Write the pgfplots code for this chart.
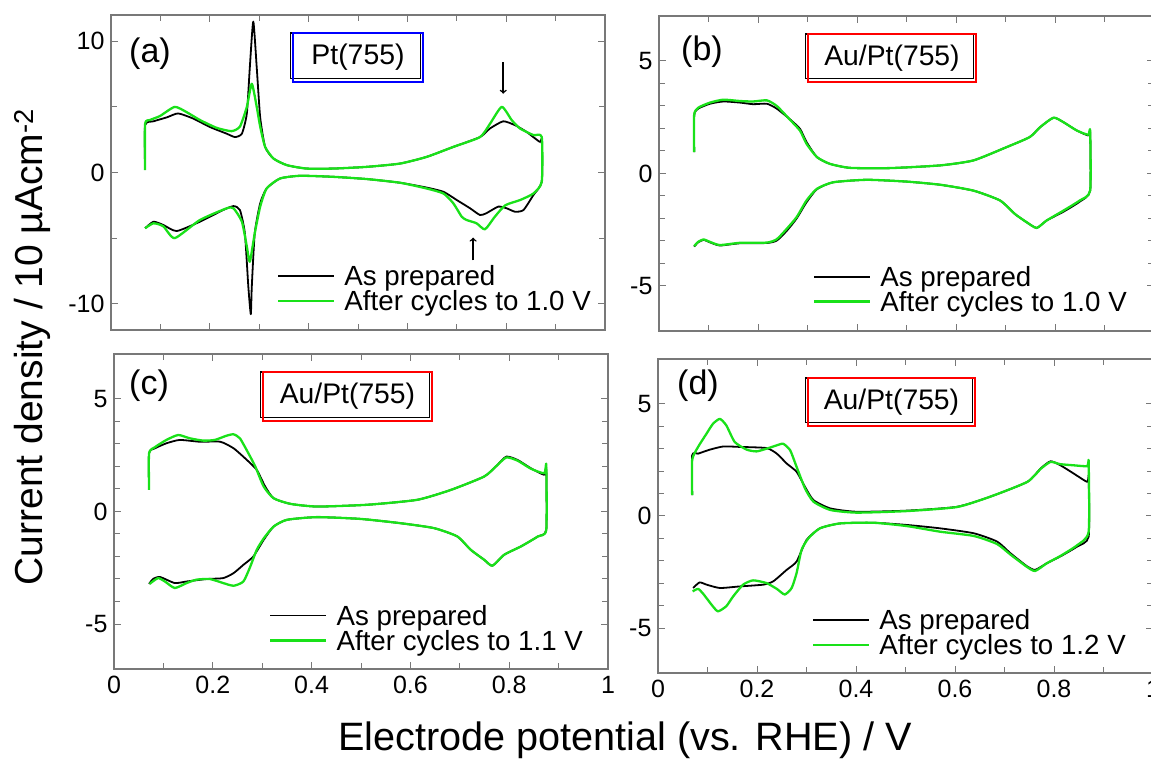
\documentclass[border=0pt]{standalone}
\usepackage{fontspec}
\setmainfont{Liberation Sans}
\usepackage{pgfplots}
\pgfplotsset{compat=1.18}
\definecolor{cvgreen}{RGB}{25,225,25}
\definecolor{framegray}{RGB}{120,120,120}
\pgfplotsset{
  cvpanel/.style={
    scale only axis, width=494pt, height=315pt,
    xmin=0, xmax=1,
    xtick={0,0.2,0.4,0.6,0.8,1}, minor xtick={0.1,0.3,0.5,0.7,0.9},
    tick align=inside,
    axis line style={framegray, line width=1.3pt},
    every tick/.style={framegray, line width=1pt},
    major tick length=7pt, minor tick length=6pt,
    tick label style={font=\fontsize{25}{30}\selectfont},
    yticklabel style={xshift=-3pt}, xticklabel style={yshift=-4pt},
    /pgf/number format/assume math mode=true,
    legend style={draw=none, fill=none, inner sep=0pt, anchor=west,
      font=\fontsize{27.7}{29}\selectfont, row sep=3pt,
      cells={anchor=west}, nodes={inner sep=0pt},
      /tikz/every odd column/.append style={column sep=9pt}},
    legend image code/.code={\draw[##1] (0pt,0pt) -- (56pt,0pt);},
    legend cell align=left,
  },
  blk/.style={black, line width=1.8pt, line join=round, smooth, tension=0.35},
  grn/.style={cvgreen, line width=2.3pt, line join=round, smooth, tension=0.35},
}
\newcommand{\lstrut}{\rule[-6.5pt]{0pt}{27pt}}
\begin{document}
\begin{tikzpicture}
\useasboundingbox (0,0) rectangle (1151pt,761pt);
% (a)
\begin{axis}[cvpanel, at={(111pt,431pt)}, anchor=south west,
  ymin=-12, ymax=12, ytick={-10,0,10}, minor ytick={-5,5}, xticklabels={},
  legend style={at={(0.336,0.132)}}]
\addplot[blk] coordinates {(0.069,0.2) (0.069,3.6) (0.086,3.9) (0.113,4.2) (0.136,4.5) (0.167,4.1) (0.2,3.47) (0.234,2.96) (0.251,2.7) (0.265,2.96) (0.275,4.5) (0.281,8.0) (0.288,11.5) (0.295,8.0) (0.302,4.2) (0.312,1.95) (0.329,1.06) (0.356,0.56) (0.396,0.30) (0.45,0.30) (0.518,0.43) (0.585,0.68) (0.639,1.19) (0.693,1.95) (0.747,2.7) (0.767,3.35) (0.794,3.9) (0.818,3.6) (0.841,3.1) (0.868,2.33) (0.872,2.5) (0.872,-0.7) (0.855,-1.72) (0.835,-2.86) (0.818,-2.99) (0.801,-2.73) (0.784,-2.6) (0.76,-3.1) (0.747,-3.24) (0.727,-2.73) (0.7,-2.1) (0.673,-1.47) (0.639,-1.15) (0.585,-0.78) (0.518,-0.5) (0.45,-0.33) (0.383,-0.25) (0.342,-0.46) (0.315,-1.22) (0.302,-2.35) (0.291,-4.63) (0.285,-8.7) (0.283,-10.8) (0.278,-8.7) (0.271,-4.63) (0.261,-2.86) (0.248,-2.56) (0.227,-2.86) (0.18,-3.75) (0.133,-4.46) (0.106,-4.0) (0.086,-3.75) (0.069,-4.25)};
\addlegendentry{\lstrut As prepared}
\addplot[grn] coordinates {(0.069,0.18) (0.069,3.7) (0.079,4.0) (0.099,4.3) (0.129,5.0) (0.153,4.6) (0.18,4.0) (0.214,3.4) (0.244,3.15) (0.261,3.5) (0.275,5.0) (0.285,6.76) (0.295,5.0) (0.302,3.5) (0.312,1.95) (0.329,1.06) (0.356,0.56) (0.396,0.30) (0.45,0.30) (0.518,0.43) (0.585,0.68) (0.639,1.19) (0.693,1.95) (0.747,2.7) (0.767,3.7) (0.791,5.0) (0.811,4.0) (0.828,3.35) (0.855,2.85) (0.872,2.7) (0.872,-0.7) (0.855,-1.6) (0.828,-2.1) (0.798,-2.5) (0.777,-3.37) (0.757,-4.33) (0.74,-3.87) (0.72,-3.62) (0.71,-3.37) (0.693,-2.35) (0.673,-1.6) (0.639,-1.22) (0.585,-0.78) (0.518,-0.5) (0.45,-0.33) (0.383,-0.25) (0.342,-0.46) (0.315,-1.22) (0.302,-2.6) (0.291,-4.63) (0.281,-6.8) (0.275,-5.65) (0.265,-3.75) (0.248,-2.73) (0.234,-2.73) (0.18,-3.62) (0.129,-5.0) (0.106,-4.1) (0.086,-3.87) (0.069,-4.25)};
\addlegendentry{\lstrut After cycles to 1.0 V}
\draw[->, black, line width=1.5pt] (axis cs:0.794,8.4) -- (axis cs:0.794,6.0);
\draw[->, black, line width=1.5pt] (axis cs:0.733,-6.7) -- (axis cs:0.733,-4.96);
\end{axis}
% (b)
\begin{axis}[cvpanel, at={(659pt,430pt)}, anchor=south west, width=495pt,
  ymin=-7, ymax=7, ytick={-5,0,5}, minor y tick num=4, xticklabels={},
  legend style={at={(0.311,0.133)}}]
\addplot[blk] coordinates {(0.071,0.95) (0.071,2.58) (0.079,2.88) (0.103,3.1) (0.13,3.2) (0.164,3.15) (0.19,3.08) (0.218,3.1) (0.238,2.88) (0.265,2.4) (0.285,1.98) (0.298,1.4) (0.319,0.73) (0.345,0.43) (0.386,0.25) (0.467,0.24) (0.568,0.36) (0.635,0.58) (0.702,1.17) (0.749,1.62) (0.77,2.06) (0.797,2.48) (0.817,2.28) (0.844,1.91) (0.867,1.69) (0.871,1.84) (0.871,-0.76) (0.85,-1.25) (0.817,-1.7) (0.783,-2.09) (0.763,-2.42) (0.743,-2.17) (0.719,-1.8) (0.689,-1.2) (0.635,-0.76) (0.568,-0.5) (0.5,-0.36) (0.42,-0.28) (0.352,-0.39) (0.319,-0.7) (0.298,-1.28) (0.278,-2.0) (0.258,-2.55) (0.238,-2.98) (0.218,-3.09) (0.164,-3.1) (0.123,-3.2) (0.103,-3.06) (0.09,-2.95) (0.079,-3.06) (0.071,-3.25)};
\addlegendentry{\lstrut As prepared}
\addplot[grn] coordinates {(0.071,0.95) (0.071,2.6) (0.079,2.92) (0.103,3.15) (0.13,3.28) (0.164,3.22) (0.19,3.2) (0.218,3.25) (0.238,3.0) (0.265,2.38) (0.285,1.9) (0.298,1.32) (0.319,0.73) (0.345,0.43) (0.386,0.25) (0.467,0.24) (0.568,0.36) (0.635,0.58) (0.702,1.17) (0.749,1.62) (0.77,2.06) (0.797,2.48) (0.817,2.28) (0.844,1.91) (0.867,1.72) (0.871,1.9) (0.871,-0.76) (0.85,-1.2) (0.817,-1.65) (0.783,-2.09) (0.763,-2.42) (0.743,-2.17) (0.719,-1.8) (0.689,-1.2) (0.635,-0.76) (0.568,-0.5) (0.5,-0.36) (0.42,-0.28) (0.352,-0.39) (0.319,-0.68) (0.298,-1.2) (0.278,-1.94) (0.258,-2.46) (0.238,-2.92) (0.218,-3.07) (0.164,-3.08) (0.123,-3.18) (0.103,-3.04) (0.09,-2.93) (0.079,-3.04) (0.071,-3.23)};
\addlegendentry{\lstrut After cycles to 1.0 V}
\end{axis}
% (c)
\begin{axis}[cvpanel, at={(114pt,92pt)}, anchor=south west,
  ymin=-7, ymax=7, ytick={-5,0,5}, minor y tick num=4,
  legend style={at={(0.314,0.130)}}]
\addplot[blk] coordinates {(0.071,0.96) (0.071,2.59) (0.083,2.81) (0.106,3.03) (0.133,3.18) (0.174,3.1) (0.215,3.1) (0.242,2.81) (0.269,2.29) (0.289,1.85) (0.306,1.11) (0.323,0.59) (0.357,0.34) (0.411,0.22) (0.513,0.3) (0.614,0.52) (0.682,0.96) (0.749,1.55) (0.773,2.0) (0.794,2.44) (0.817,2.29) (0.844,1.92) (0.871,1.63) (0.875,1.92) (0.875,-0.81) (0.858,-1.11) (0.824,-1.55) (0.79,-1.92) (0.766,-2.41) (0.749,-2.14) (0.722,-1.7) (0.695,-1.11) (0.648,-0.74) (0.58,-0.52) (0.499,-0.33) (0.411,-0.25) (0.35,-0.37) (0.323,-0.67) (0.303,-1.26) (0.282,-2.0) (0.262,-2.37) (0.242,-2.74) (0.221,-2.96) (0.188,-3.0) (0.147,-3.11) (0.123,-3.18) (0.093,-2.91) (0.079,-3.0) (0.071,-3.22)};
\addlegendentry{\lstrut As prepared}
\addplot[grn] coordinates {(0.071,0.96) (0.071,2.59) (0.083,2.86) (0.106,3.18) (0.13,3.4) (0.154,3.25) (0.181,3.15) (0.204,3.18) (0.228,3.37) (0.242,3.43) (0.255,3.25) (0.272,2.59) (0.286,2.0) (0.303,1.11) (0.323,0.59) (0.357,0.34) (0.411,0.22) (0.513,0.3) (0.614,0.52) (0.682,0.96) (0.749,1.55) (0.773,2.0) (0.794,2.4) (0.817,2.26) (0.844,1.9) (0.871,1.7) (0.875,2.07) (0.875,-0.81) (0.858,-1.11) (0.824,-1.55) (0.79,-1.92) (0.766,-2.41) (0.749,-2.14) (0.722,-1.7) (0.695,-1.11) (0.648,-0.74) (0.58,-0.52) (0.499,-0.33) (0.411,-0.25) (0.35,-0.37) (0.323,-0.67) (0.303,-1.2) (0.289,-1.7) (0.276,-2.44) (0.262,-3.11) (0.242,-3.3) (0.221,-3.18) (0.194,-3.0) (0.167,-3.03) (0.147,-3.18) (0.123,-3.4) (0.103,-3.11) (0.089,-2.96) (0.072,-3.22)};
\addlegendentry{\lstrut After cycles to 1.1 V}
\end{axis}
% (d)
\begin{axis}[cvpanel, at={(658pt,88pt)}, anchor=south west, width=495pt, height=314pt,
  ymin=-7, ymax=7, ytick={-5,0,5}, minor y tick num=4,
  legend style={at={(0.311,0.129)}}]
\addplot[blk] coordinates {(0.069,0.93) (0.069,2.71) (0.081,2.78) (0.105,2.96) (0.132,3.1) (0.165,3.08) (0.219,3.03) (0.24,2.78) (0.26,2.34) (0.28,1.97) (0.297,1.3) (0.314,0.71) (0.348,0.34) (0.401,0.19) (0.503,0.24) (0.604,0.41) (0.671,0.86) (0.746,1.52) (0.773,2.12) (0.793,2.44) (0.813,2.26) (0.84,1.89) (0.867,1.52) (0.87,1.75) (0.87,-0.92) (0.847,-1.36) (0.813,-1.8) (0.786,-2.1) (0.762,-2.4) (0.746,-2.25) (0.712,-1.66) (0.685,-1.14) (0.638,-0.77) (0.57,-0.55) (0.503,-0.4) (0.435,-0.3) (0.368,-0.33) (0.327,-0.55) (0.3,-1.07) (0.28,-2.03) (0.26,-2.4) (0.233,-2.91) (0.213,-3.06) (0.165,-3.14) (0.125,-3.21) (0.098,-3.06) (0.084,-2.96) (0.071,-3.21)};
\addlegendentry{\lstrut As prepared}
\addplot[grn] coordinates {(0.069,0.93) (0.069,2.5) (0.081,3.08) (0.098,3.67) (0.111,4.11) (0.125,4.33) (0.138,4.04) (0.155,3.3) (0.179,2.96) (0.199,2.88) (0.219,3.0) (0.24,3.15) (0.253,3.22) (0.267,2.93) (0.28,2.19) (0.297,1.23) (0.314,0.64) (0.348,0.27) (0.401,0.15) (0.503,0.22) (0.604,0.4) (0.671,0.86) (0.746,1.52) (0.773,2.1) (0.793,2.41) (0.813,2.31) (0.84,2.26) (0.867,2.22) (0.87,2.41) (0.87,-0.7) (0.847,-1.3) (0.813,-1.78) (0.786,-2.1) (0.762,-2.45) (0.746,-2.28) (0.712,-1.72) (0.685,-1.25) (0.638,-0.89) (0.57,-0.7) (0.503,-0.45) (0.435,-0.3) (0.368,-0.33) (0.327,-0.55) (0.304,-0.99) (0.29,-1.51) (0.28,-2.54) (0.27,-3.21) (0.256,-3.5) (0.24,-3.25) (0.219,-2.99) (0.192,-2.87) (0.172,-3.06) (0.152,-3.58) (0.138,-4.02) (0.121,-4.25) (0.108,-3.95) (0.091,-3.46) (0.081,-3.25) (0.07,-3.36)};
\addlegendentry{\lstrut After cycles to 1.2 V}
\end{axis}
\begin{scope}[x=1pt, y=-1pt, yshift=761pt]
% label boxes
\draw[black, line width=1.4pt] (290.3,33) rectangle (420.3,78.7);
\draw[blue, line width=1.4pt] (293,33) rectangle (423,82);
\node[font=\fontsize{28.4}{30}\selectfont] at (358,57.5) {Pt(755)};
\draw[black, line width=1.4pt] (805.3,34) rectangle (973.3,78.7);
\draw[red, line width=1.4pt] (808,34) rectangle (976,82);
\node[font=\fontsize{28.3}{30}\selectfont] at (892,58) {Au/Pt(755)};
\draw[black, line width=1.4pt] (260.3,372) rectangle (429.3,417.7);
\draw[red, line width=1.4pt] (263,372) rectangle (432,421);
\node[font=\fontsize{28.3}{30}\selectfont] at (347.5,396.5) {Au/Pt(755)};
\draw[black, line width=1.4pt] (805.3,378) rectangle (972.3,422.7);
\draw[red, line width=1.4pt] (808,378) rectangle (975,426);
\node[font=\fontsize{28.3}{30}\selectfont] at (891.5,402) {Au/Pt(755)};
% panel letters
\node[font=\fontsize{34}{36}\selectfont] at (150,54) {(a)};
\node[font=\fontsize{34}{36}\selectfont] at (702,52) {(b)};
\node[font=\fontsize{34}{36}\selectfont] at (149,386) {(c)};
\node[font=\fontsize{34}{36}\selectfont] at (698,386) {(d)};
% axis titles
\node[rotate=90, font=\fontsize{39}{40}\selectfont] at (32,347) {Current density / 10 µAcm\textsuperscript{-2}};
\node[anchor=base, font=\fontsize{39.6}{40}\selectfont] at (625,750) {Electrode potential (vs. RHE) / V};
\end{scope}
\end{tikzpicture}
\end{document}
